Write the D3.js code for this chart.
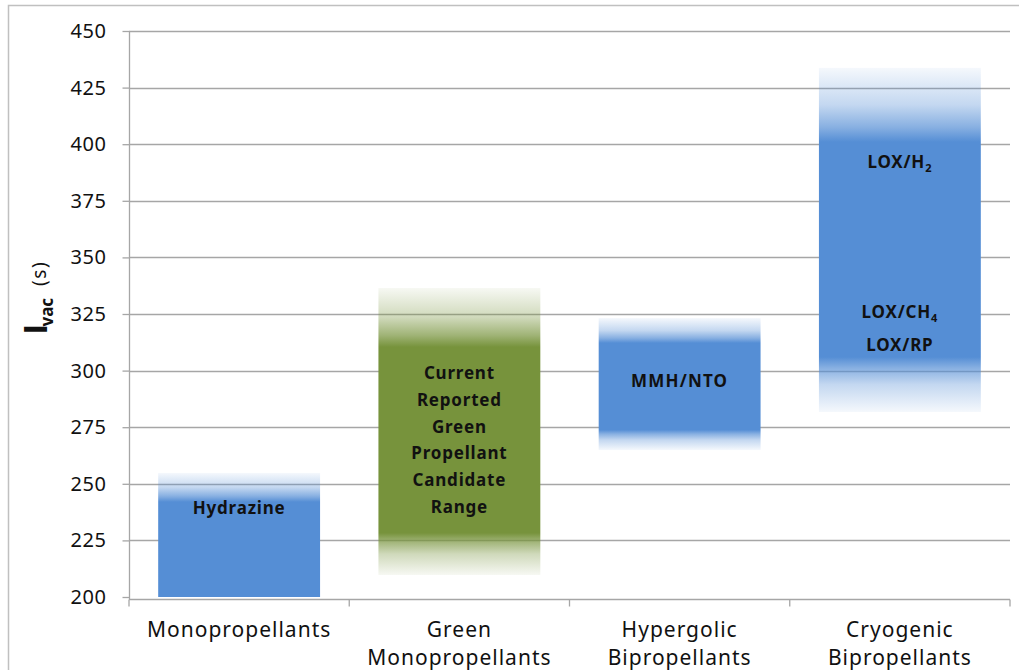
<!DOCTYPE html>
<html><head><meta charset="utf-8">
<script src="https://cdn.jsdelivr.net/npm/d3@7"></script>
<style>
body{margin:0;background:#fff;}
svg{display:block;font-family:"Noto Sans","Open Sans",sans-serif;}
</style></head>
<body><svg id="c" width="1019" height="670"></svg>
<script>
// ---- data ----
const categories = [["Monopropellants"],["Green","Monopropellants"],["Hypergolic","Bipropellants"],["Cryogenic","Bipropellants"]];
const rangeTop    = [254.8, 336.5, 323.2, 433.7];   // faded upper edge
const solidTop    = [242.0, 310.4, 312.2, 401.0];   // upper end of solid range
const solidBottom = [200.0, 228.3, 273.8, 306.0];   // lower end of solid range
const rangeBottom = [200.0, 209.7, 264.9, 281.7];   // faded lower edge
const barColors   = ["#558ed5","#77933c","#558ed5","#558ed5"];
const yTicks = [200,225,250,275,300,325,350,375,400,425,450];
// labels inside bars: category index, value position, lines
const barLabels = [
  {cat:0, v:239.3, lines:["Hydrazine"]},
  {cat:1, v:269.3, lines:["Current","Reported","Green","Propellant","Candidate","Range"]},
  {cat:2, v:295.4, lines:["MMH/NTO"]},
  {cat:3, v:392.1, lines:["LOX/H","2"]},
  {cat:3, v:325.9, lines:["LOX/CH","4"]},
  {cat:3, v:311.3, lines:["LOX/RP"]}
];

const svg = d3.select("#c");
const pLeft=129, pRight=1010, pTop=31, pBottom=597;
const y = d3.scaleLinear().domain([200,450]).range([pBottom,pTop]);
const x = d3.scaleBand().domain(d3.range(categories.length)).range([pLeft,pRight]).paddingInner(0.265).paddingOuter(0.1325);

// outer border
svg.append("rect").attr("x",8.5).attr("y",5.5).attr("width",1030).attr("height",700)
  .attr("fill","none").attr("stroke","#c0c0c0").attr("stroke-width",1.5);

// gridlines
svg.append("g").selectAll("line").data(yTicks.filter(t=>t>200)).join("line")
  .attr("x1",pLeft).attr("x2",pRight).attr("y1",d=>Math.round(y(d))+0.5).attr("y2",d=>Math.round(y(d))+0.5)
  .attr("stroke","#a6a6a6").attr("stroke-width",1.3);

// gradients + bars
const defs = svg.append("defs");
categories.forEach((c,i)=>{
  const y1=y(rangeTop[i]), y2=y(rangeBottom[i]);
  const f = v => (y(v)-y1)/(y2-y1);
  const g = defs.append("linearGradient").attr("id","g"+i).attr("gradientUnits","userSpaceOnUse")
    .attr("x1",0).attr("x2",0).attr("y1",y1).attr("y2",y2);
  const col = barColors[i];
  const stops = [];
  stops.push([0,0.06]);
  const ft=f(solidTop[i]);
  stops.push([ft*0.5,0.35]);
  stops.push([ft*0.8,0.7]);
  stops.push([ft,1]);
  const fb=f(solidBottom[i]);
  stops.push([fb,1]);
  if (rangeBottom[i] < solidBottom[i]) {
    stops.push([fb+(1-fb)*0.2,0.7]);
    stops.push([fb+(1-fb)*0.5,0.35]);
    stops.push([1,0.06]);
  } else stops.push([1,1]);
  g.selectAll("stop").data(stops).join("stop")
    .attr("offset",d=>d[0]).attr("stop-color",col).attr("stop-opacity",d=>d[1]);
  svg.append("rect").attr("x",x(i)).attr("width",x.bandwidth())
    .attr("y",y1).attr("height",y2-y1).attr("fill","url(#g"+i+")");
});

// y axis
const yAxis = d3.axisLeft(y).tickValues(yTicks).tickSize(7).tickPadding(16).tickFormat(d3.format("d"));
const ya = svg.append("g").attr("transform",`translate(${pLeft+0.5},0)`).call(yAxis);
ya.select(".domain").attr("stroke","#a6a6a6").attr("stroke-width",1.3).attr("d",`M0,${pTop}V${pBottom+2}`);
ya.selectAll(".tick line").attr("stroke","#a6a6a6").attr("stroke-width",1.3);
ya.selectAll(".tick text").attr("font-size",20).attr("fill","#111").attr("font-family","'Noto Sans',sans-serif").attr("letter-spacing",0.6);

// x axis
const xa = svg.append("g").attr("transform",`translate(0,${pBottom+2.5})`);
xa.append("line").attr("x1",pLeft).attr("x2",pRight).attr("stroke","#a6a6a6").attr("stroke-width",1.3);
const bounds = d3.range(categories.length+1).map(i=> pLeft + i*(pRight-pLeft)/categories.length);
xa.selectAll("line.t").data(bounds).join("line").attr("class","t")
  .attr("x1",d=>d).attr("x2",d=>d).attr("y1",0).attr("y2",7).attr("stroke","#a6a6a6").attr("stroke-width",1.3);
categories.forEach((c,i)=>{
  const t = xa.append("text").attr("text-anchor","middle").attr("font-size",21).attr("letter-spacing",1).attr("fill","#111")
    .attr("x",x(i)+x.bandwidth()/2).attr("y",37);
  c.forEach((ln,j)=> t.append("tspan").attr("x",x(i)+x.bandwidth()/2).attr("dy",j?28:0).text(ln));
});

// bar labels
barLabels.forEach(b=>{
  const cx = x(b.cat)+x.bandwidth()/2;
  const t = svg.append("text").attr("text-anchor","middle").attr("font-weight","bold").attr("font-size",17)
    .attr("letter-spacing",b.cat===2?1.2:0.8).attr("fill","#111");
  if (b.lines.length>1 && /^\d$/.test(b.lines[1])) {
    t.attr("x",cx).attr("y",y(b.v)+6);
    t.append("tspan").text(b.lines[0]);
    t.append("tspan").attr("font-size",11).attr("dy",4).text(b.lines[1]);
  } else {
    const n=b.lines.length, lh=26.7;
    b.lines.forEach((ln,j)=>{
      t.append("tspan").attr("x",cx).attr("y",y(b.v)+6+(j-(n-1)/2)*lh).text(ln);
    });
  }
});

// y title
const yt = svg.append("text").attr("transform","translate(47,334) rotate(-90)").attr("text-anchor","start").attr("fill","#111");
yt.append("tspan").attr("font-weight","bold").attr("font-size",34).attr("font-family","'Liberation Sans',sans-serif").text("I");
yt.append("tspan").attr("font-weight","bold").attr("font-size",17).attr("dx",-2).attr("dy",6).text("vac");
yt.append("tspan").attr("font-size",19).attr("dx",12).attr("dy",-7).attr("letter-spacing",1.5).text("(s)");
</script></body></html>
